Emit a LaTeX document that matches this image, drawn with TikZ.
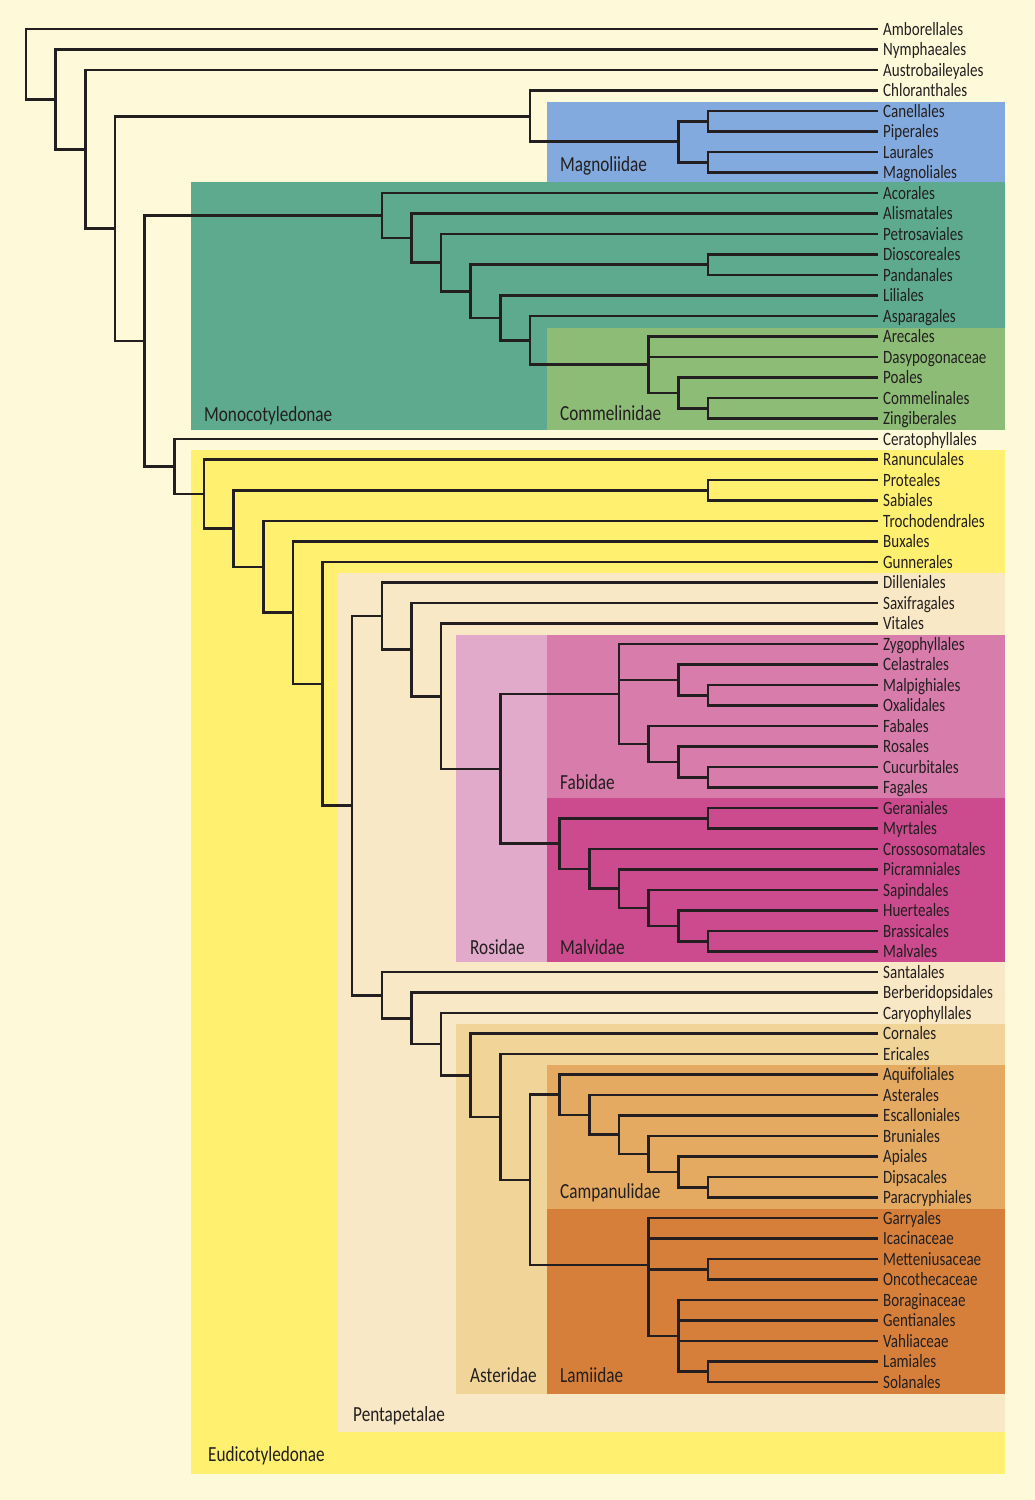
\documentclass[tikz,border=0pt]{standalone}
\usepackage{fontspec}
\setmainfont{Carlito}[FakeStretch=0.8]
\definecolor{bg}{HTML}{FEF9D8}
\definecolor{txt}{HTML}{231F20}
\definecolor{magn}{HTML}{82AADE}
\definecolor{mono}{HTML}{5DAA8F}
\definecolor{comm}{HTML}{8DBC76}
\definecolor{eudi}{HTML}{FFF070}
\definecolor{penta}{HTML}{F9E8C5}
\definecolor{rosi}{HTML}{E1AACA}
\definecolor{fabi}{HTML}{D87CAC}
\definecolor{malv}{HTML}{CC4A8E}
\definecolor{aste}{HTML}{F0D498}
\definecolor{camp}{HTML}{E4AA62}
\definecolor{lami}{HTML}{D67F3A}
\begin{document}
\begin{tikzpicture}[x=1pt,y=-1pt,
  branch/.style={line width=2.6pt, draw=txt, line join=miter, line cap=rect},
  leaf/.style={anchor=west, inner xsep=6pt, inner ysep=0pt, text height=12pt, text depth=0pt, font=\fontsize{18.8}{20}\selectfont, text=txt},
  clade/.style={anchor=base west, inner sep=0pt, font=\fontsize{21.5}{24}\selectfont, text=txt}]
\useasboundingbox (0,0) rectangle (1035,1500);
\fill[bg] (0,0) rectangle (1035,1500);
% clade boxes
\fill[eudi] (191,450) rectangle (1005,1474);
\fill[penta] (338,573) rectangle (1005,1432);
\fill[rosi] (456,635) rectangle (547,962);
\fill[fabi] (547,635) rectangle (1005,798);
\fill[malv] (547,798) rectangle (1005,962);
\fill[aste] (456,1023.5) rectangle (1005,1394);
\fill[camp] (547,1065) rectangle (1005,1209);
\fill[lami] (547,1209) rectangle (1005,1394);
\fill[magn] (547,102) rectangle (1005,182);
\fill[mono] (191,182) rectangle (1005,430);
\fill[comm] (547,327.5) rectangle (1005,430);
% leaves
\foreach \nm [count=\i] in {Amborellales,Nymphaeales,Austrobaileyales,Chloranthales,Canellales,Piperales,Laurales,Magnoliales,Acorales,Alismatales,Petrosaviales,Dioscoreales,Pandanales,Liliales,Asparagales,Arecales,Dasypogonaceae,Poales,Commelinales,Zingiberales,Ceratophyllales,Ranunculales,Proteales,Sabiales,Trochodendrales,Buxales,Gunnerales,Dilleniales,Saxifragales,Vitales,Zygophyllales,Celastrales,Malpighiales,Oxalidales,Fabales,Rosales,Cucurbitales,Fagales,Geraniales,Myrtales,Crossosomatales,Picramniales,Sapindales,Huerteales,Brassicales,Malvales,Santalales,Berberidopsidales,Caryophyllales,Cornales,Ericales,Aquifoliales,Asterales,Escalloniales,Bruniales,Apiales,Dipsacales,Paracryphiales,Garryales,Icacinaceae,Metteniusaceae,Oncothecaceae,Boraginaceae,Gentianales,Vahliaceae,Lamiales,Solanales}
  \node[leaf] (L\i) at (877,{29+20.5*(\i-1)}) {\nm};
% internal nodes
\coordinate (root) at (26,64.2);
\coordinate (a1) at (55.65,99.4);
\coordinate (a2) at (85.3,149.3);
\coordinate (a3) at (114.95,228.6);
\coordinate (mag0) at (530.05,116.3);
\coordinate (mag1) at (678.3,141.6);
\coordinate (mag2) at (707.95,121.25);
\coordinate (mag3) at (707.95,162.25);
\coordinate (a4) at (144.6,341);
\coordinate (mono1) at (381.8,215.5);
\coordinate (mono2) at (411.45,238);
\coordinate (mono3) at (441.1,262.7);
\coordinate (mono4) at (470.75,291.5);
\coordinate (dio) at (707.95,264.75);
\coordinate (mono5) at (500.4,317.9);
\coordinate (mono6) at (530.05,340.3);
\coordinate (com1) at (648.65,364.7);
\coordinate (com2) at (678.3,392.9);
\coordinate (com3) at (707.95,408.25);
\coordinate (a5) at (174.25,466.5);
\coordinate (eu1) at (203.9,494);
\coordinate (eu2) at (233.55,528.5);
\coordinate (pro) at (707.95,490.25);
\coordinate (eu3) at (263.2,566.8);
\coordinate (eu4) at (292.85,612.6);
\coordinate (eu5) at (322.5,683.8);
\coordinate (pen) at (352.15,805.6);
\coordinate (sup1) at (381.8,616);
\coordinate (sup2) at (411.45,649.6);
\coordinate (sup3) at (441.1,696.2);
\coordinate (ros) at (500.4,768.8);
\coordinate (fab) at (619,694);
\coordinate (fab1) at (678.3,679.9);
\coordinate (fab2) at (707.95,695.25);
\coordinate (fab3) at (648.65,743.9);
\coordinate (fab4) at (678.3,761.9);
\coordinate (fab5) at (707.95,777.25);
\coordinate (mal) at (559.7,843.6);
\coordinate (mal1) at (707.95,818.25);
\coordinate (mal2) at (589.35,868.9);
\coordinate (mal3) at (619,888.7);
\coordinate (mal4) at (648.65,907.9);
\coordinate (mal5) at (678.3,925.9);
\coordinate (mal6) at (707.95,941.25);
\coordinate (ast0) at (381.8,995.2);
\coordinate (ast1) at (411.45,1018.3);
\coordinate (ast2) at (441.1,1044.1);
\coordinate (ast3) at (470.75,1075.25);
\coordinate (ast4) at (500.4,1116.9);
\coordinate (ast5) at (530.05,1179.85);
\coordinate (cam) at (559.7,1094.7);
\coordinate (cam1) at (589.35,1114.9);
\coordinate (cam2) at (619,1134.7);
\coordinate (cam3) at (648.65,1153.9);
\coordinate (cam4) at (678.3,1171.9);
\coordinate (cam5) at (707.95,1187.25);
\coordinate (lam) at (648.65,1265);
\coordinate (lam1) at (707.95,1269.25);
\coordinate (lam2) at (678.3,1335.9);
\coordinate (lam3) at (707.95,1371.75);
% branches
\foreach \p/\c in {root/L1.west, root/a1, a1/L2.west, a1/a2, a2/L3.west, a2/a3,
  a3/mag0, a3/a4, mag0/L4.west, mag0/mag1, mag1/mag2, mag1/mag3,
  mag2/L5.west, mag2/L6.west, mag3/L7.west, mag3/L8.west,
  a4/mono1, a4/a5, mono1/L9.west, mono1/mono2, mono2/L10.west, mono2/mono3,
  mono3/L11.west, mono3/mono4, mono4/dio, mono4/mono5, dio/L12.west, dio/L13.west,
  mono5/L14.west, mono5/mono6, mono6/L15.west, mono6/com1,
  com1/L16.west, com1/L17.west, com1/com2, com2/L18.west, com2/com3,
  com3/L19.west, com3/L20.west,
  a5/L21.west, a5/eu1, eu1/L22.west, eu1/eu2, eu2/pro, eu2/eu3,
  pro/L23.west, pro/L24.west, eu3/L25.west, eu3/eu4, eu4/L26.west, eu4/eu5,
  eu5/L27.west, eu5/pen, pen/sup1, pen/ast0,
  sup1/L28.west, sup1/sup2, sup2/L29.west, sup2/sup3, sup3/L30.west, sup3/ros,
  ros/fab, ros/mal, fab/L31.west, fab/fab1, fab/fab3,
  fab1/L32.west, fab1/fab2, fab2/L33.west, fab2/L34.west,
  fab3/L35.west, fab3/fab4, fab4/L36.west, fab4/fab5, fab5/L37.west, fab5/L38.west,
  mal/mal1, mal/mal2, mal1/L39.west, mal1/L40.west, mal2/L41.west, mal2/mal3,
  mal3/L42.west, mal3/mal4, mal4/L43.west, mal4/mal5, mal5/L44.west, mal5/mal6,
  mal6/L45.west, mal6/L46.west,
  ast0/L47.west, ast0/ast1, ast1/L48.west, ast1/ast2, ast2/L49.west, ast2/ast3,
  ast3/L50.west, ast3/ast4, ast4/L51.west, ast4/ast5, ast5/cam, ast5/lam,
  cam/L52.west, cam/cam1, cam1/L53.west, cam1/cam2, cam2/L54.west, cam2/cam3,
  cam3/L55.west, cam3/cam4, cam4/L56.west, cam4/cam5, cam5/L57.west, cam5/L58.west,
  lam/L59.west, lam/L60.west, lam/lam1, lam/lam2, lam1/L61.west, lam1/L62.west,
  lam2/L63.west, lam2/L64.west, lam2/L65.west, lam2/lam3, lam3/L66.west, lam3/L67.west}
  \draw[branch] (\p) |- (\c);
% clade labels
\node[clade] (tMagn) at (560,171.7) {Magnoliidae};
\node[clade] (tMono) at (204,421.7) {Monocotyledonae};
\node[clade] (tComm) at (560,420.5) {Commelinidae};
\node[clade] (tFabi) at (560,789.3) {Fabidae};
\node[clade] (tRosi) at (470,954) {Rosidae};
\node[clade] (tMalv) at (560,954) {Malvidae};
\node[clade] (tCamp) at (560,1198.3) {Campanulidae};
\node[clade] (tAste) at (470,1382.7) {Asteridae};
\node[clade] (tLami) at (560,1382.7) {Lamiidae};
\node[clade] (tPent) at (353,1421.7) {Pentapetalae};
\node[clade] (tEudi) at (208,1461) {Eudicotyledonae};
\end{tikzpicture}
\end{document}
